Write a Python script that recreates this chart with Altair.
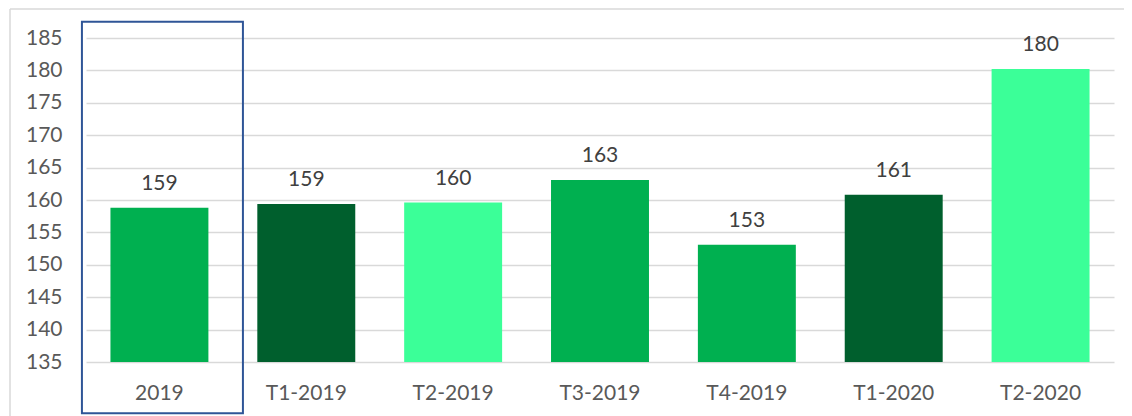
import altair as alt
import pandas as pd

categories = ["2019", "T1-2019", "T2-2019", "T3-2019", "T4-2019", "T1-2020", "T2-2020"]
values = [158.8, 159.4, 159.6, 163.1, 153.1, 160.8, 180.2]
labels = ["159", "159", "160", "163", "153", "161", "180"]
colors = ["#00B050", "#005F2D", "#3BFF98", "#00B050", "#00B050", "#005F2D", "#3BFF98"]
y_ticks = [135, 140, 145, 150, 155, 160, 165, 170, 175, 180, 185]
box_category = ["2019"]
box_top = [187.5]
box_bottom = [127.1]

FONT = "Lato"
FS = 21
df = pd.DataFrame({"cat": categories, "value": values, "label": labels, "color": colors})
box_df = pd.DataFrame({"cat": box_category, "top": box_top, "bottom": box_bottom})

x_scale = alt.Scale(domain=categories, paddingInner=0.333, paddingOuter=0.1665)
y_scale = alt.Scale(domain=[135, 185], zero=False, nice=False)
y_axis = alt.Axis(title=None, values=y_ticks, labelOverlap=False)
x_axis = alt.Axis(title=None, labelAngle=0)

bars = alt.Chart(df).mark_bar().encode(
    x=alt.X("cat:N", sort=categories, scale=x_scale, axis=x_axis),
    y=alt.Y("value:Q", scale=y_scale, axis=y_axis),
    y2=alt.datum(135),
    color=alt.Color("color:N", scale=None),
)

text = alt.Chart(df).mark_text(baseline="alphabetic", dy=-18, fontSize=FS,
                               color="#404040", font=FONT).encode(
    x=alt.X("cat:N", sort=categories, scale=x_scale, axis=x_axis),
    y=alt.Y("value:Q", scale=y_scale, axis=y_axis),
    text="label:N",
)

box = alt.Chart(box_df).mark_bar(filled=False, stroke="#2F5597", strokeWidth=2,
                                 width=161, xOffset=3).encode(
    x=alt.X("cat:N", sort=categories, scale=x_scale, axis=x_axis),
    y=alt.Y("top:Q", scale=y_scale, axis=y_axis),
    y2="bottom:Q",
)

frame_top = alt.Chart(pd.DataFrame({"k": [0]})).mark_rule(color="#D9D9D9", strokeWidth=1.5).encode(
    x=alt.value(-76), x2=alt.value(1100), y=alt.value(-29))
frame_left = alt.Chart(pd.DataFrame({"k": [0]})).mark_rule(color="#D9D9D9", strokeWidth=1.5).encode(
    x=alt.value(-76), y=alt.value(-29), y2=alt.value(400))

chart = alt.layer(bars, frame_top, frame_left, text, box).properties(
    width=1028, height=324,
    autosize=alt.AutoSizeParams(type="none"),
    padding={"left": 78, "top": 30, "right": 10, "bottom": 54},
).configure(
    background="white"
).configure_view(
    stroke=None
).configure_axis(
    domain=False, ticks=False, labelFont=FONT, labelFontSize=FS, labelColor="#595959"
).configure_axisY(
    labelOverlap=False, labelPadding=24, grid=True, gridColor="#D9D9D9", gridWidth=1.5
).configure_axisX(
    labelPadding=20, labelBaseline="top", grid=False
)

chart.save("out.html", embed_options={"renderer": "svg", "actions": False})
